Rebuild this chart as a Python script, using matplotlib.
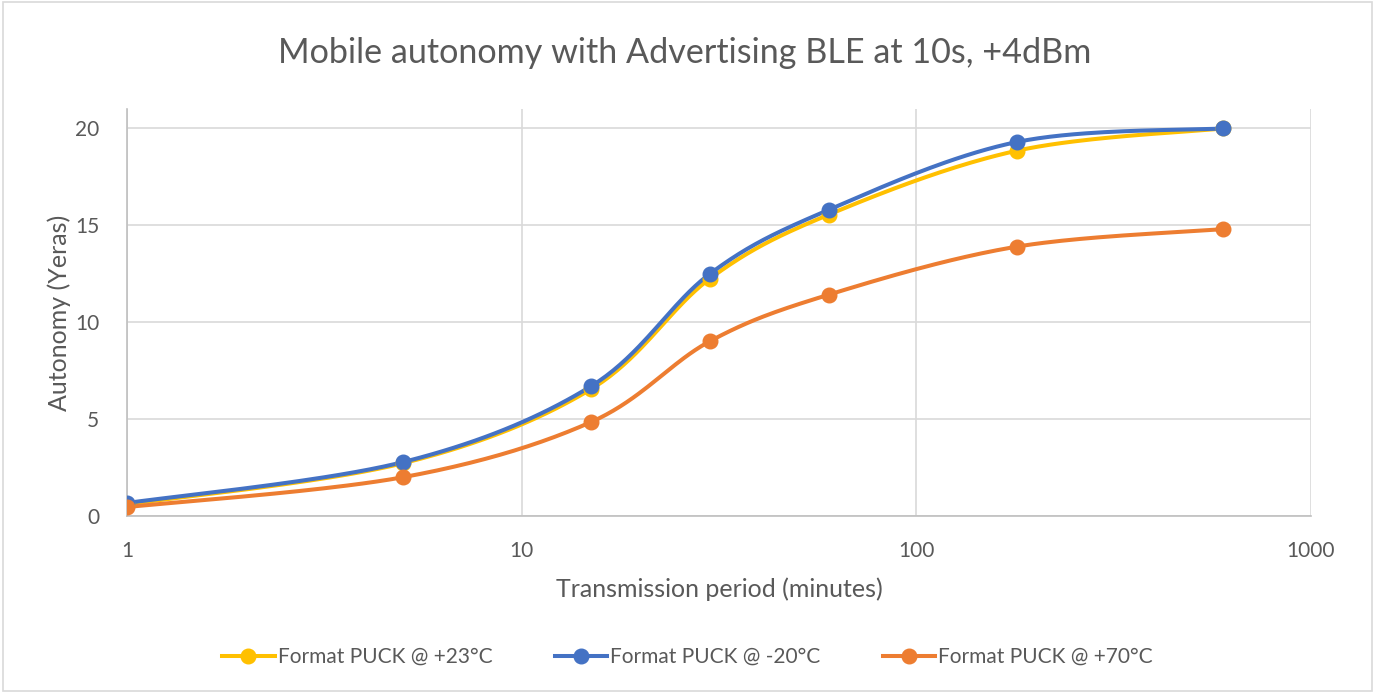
import numpy as np
import matplotlib.pyplot as plt
from matplotlib.patches import Rectangle

plt.rcParams['font.family'] = ['Lato', 'DejaVu Sans']

# data
period = [1, 5, 15, 30, 60, 180, 600]
puck_23 = [0.6, 2.72, 6.55, 12.25, 15.55, 18.85, 20.0]
puck_m20 = [0.67, 2.78, 6.7, 12.5, 15.8, 19.3, 20.0]
puck_70 = [0.46, 2.0, 4.85, 9.02, 11.42, 13.9, 14.8]

series = [
    ("Format PUCK @ +23°C", puck_23, "#FFC000"),
    ("Format PUCK @ -20°C", puck_m20, "#4472C4"),
    ("Format PUCK @ +70°C", puck_70, "#ED7D31"),
]

# scale factors so smoothing happens in roughly screen space (like Excel)
SX, SY = 395.0, 19.4


def smooth(xs, ys, n=40):
    u = np.log10(np.array(xs, float)) * SX
    v = np.array(ys, float) * SY
    P = np.column_stack([u, v])
    out = []
    for i in range(len(P) - 1):
        p0 = P[i - 1] if i > 0 else P[i]
        p1, p2 = P[i], P[i + 1]
        p3 = P[i + 2] if i + 2 < len(P) else P[i + 1]
        c1 = p1 + (p2 - p0) / 6.0
        c2 = p2 - (p3 - p1) / 6.0
        t = np.linspace(0, 1, n)[:, None]
        b = ((1 - t) ** 3) * p1 + 3 * ((1 - t) ** 2) * t * c1 + 3 * (1 - t) * t ** 2 * c2 + t ** 3 * p2
        out.append(b if i == 0 else b[1:])
    b = np.vstack(out)
    return 10 ** (b[:, 0] / SX), b[:, 1] / SY


fig = plt.figure(figsize=(13.75, 6.93), dpi=100)
ax = fig.add_axes([127 / 1375, 1 - 516 / 693, (1311 - 127) / 1375, (516 - 109) / 693])

for name, vals, col in series:
    sx, sy = smooth(period, vals)
    ax.plot(sx, sy, color=col, lw=2.9, solid_capstyle='round', zorder=3)
    ax.plot(period, vals, 'o', color=col, ms=10.5, zorder=4)
    ax.plot([], [], color=col, lw=2.9, marker='o', ms=10.5, label=name)

ax.set_xscale('log')
ax.set_xlim(1, 1000)
ax.set_ylim(0, 21)
ax.set_yticks([0, 5, 10, 15, 20])
ax.set_xticks([1, 10, 100, 1000])
ax.set_xticklabels(['1', '10', '100', '1000'])
ax.minorticks_off()
ax.grid(True, color='#d9d9d9', lw=1.2)
ax.set_axisbelow(True)
for s in ['top', 'right']:
    ax.spines[s].set_visible(False)
for s in ['left', 'bottom']:
    ax.spines[s].set_color('#bfbfbf')
    ax.spines[s].set_linewidth(1.2)
ax.tick_params(length=0, labelsize=15, colors='#595959')
ax.tick_params(axis='x', pad=18)
ax.tick_params(axis='y', pad=20)

ax.set_xlabel("Transmission period (minutes)", fontsize=18, color='#595959', labelpad=12)
ax.set_ylabel("Autonomy (Yeras)", fontsize=18, color='#595959')
ax.yaxis.set_label_coords(-0.047, 0.5)

fig.text(0.498, 1 - 53 / 693, "Mobile autonomy with Advertising BLE at 10s, +4dBm",
         ha='center', va='center', fontsize=24.6, color='#595959')

handles, labels = ax.get_legend_handles_labels()
fig.legend(handles, labels, loc='center', bbox_to_anchor=(0.5, 1 - 657 / 693), ncol=3,
           frameon=False, fontsize=15, labelcolor='#595959', handlelength=2.5,
           handletextpad=0.15, columnspacing=3.0)

fig.patches.append(Rectangle((0.002, 0.003), 0.996, 0.994, transform=fig.transFigure,
                             fill=False, edgecolor='#d9d9d9', lw=1.2))

fig.savefig("out.png", dpi=100)
